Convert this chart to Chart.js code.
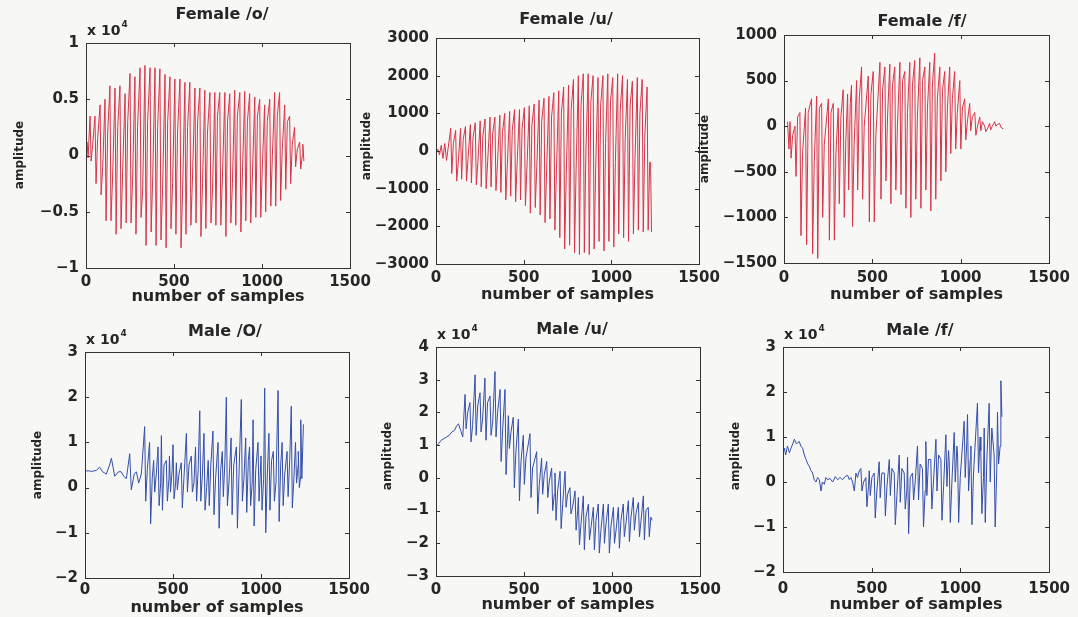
<!DOCTYPE html>
<html><head><meta charset="utf-8">
<script src="https://cdn.jsdelivr.net/npm/chart.js@4.4.0/dist/chart.umd.min.js"></script>
<style>
html,body{margin:0;padding:0;background:#f7f7f5;}
#wrap{position:relative;width:1078px;height:617px;overflow:hidden;}
canvas{position:absolute;left:0;top:0;}
</style></head><body><div id="wrap"></div>
<script>
// ---------- shared axis data ----------
const xTickValues = [0, 500, 1000, 1500];
const titles = ['Female /o/', 'Female /u/', 'Female /f/', 'Male /O/', 'Male /u/', 'Male /f/'];
const xLabel = 'number of samples';
const yLabel = 'amplitude';
const yMin = [-1, -3000, -1500, -2, -3, -2];
const yMax = [1, 3000, 1000, 3, 4, 3];
const yStep = [0.5, 1000, 500, 1, 1, 1];
const yExponent = [4, null, null, 4, 4, 4];

// ---------- Female /o/ (x 10^4) ----------
const fo_leadX = [0, 6, 12];
const fo_leadY = [0.05, 0.12, -0.02];
const fo_at = [23,51,80,108,136,165,193,222,250,278,307,335,364,392,420,449,477,505,534,562,590,619,647,675,704,732,760,789,817,845,874,902,930,959,987,1015,1044,1072,1100,1129,1157,1185,1214];
const fo_hi = [0.35,0.35,0.45,0.5,0.62,0.6,0.62,0.55,0.73,0.7,0.78,0.8,0.78,0.78,0.77,0.72,0.7,0.68,0.68,0.65,0.65,0.6,0.6,0.58,0.56,0.56,0.56,0.56,0.55,0.58,0.56,0.57,0.55,0.52,0.5,0.45,0.5,0.56,0.56,0.45,0.35,0.25,0.12];
const fo_lo = [-0.05,-0.25,-0.35,-0.58,-0.58,-0.7,-0.65,-0.6,-0.6,-0.7,-0.55,-0.8,-0.68,-0.8,-0.75,-0.82,-0.65,-0.7,-0.82,-0.7,-0.62,-0.6,-0.72,-0.65,-0.6,-0.62,-0.62,-0.72,-0.6,-0.62,-0.68,-0.58,-0.6,-0.55,-0.55,-0.5,-0.45,-0.45,-0.4,-0.3,-0.25,-0.1,-0.12];
const fo_mid = [0.1,0.15,-0.1,0.2,-0.2,0.25,-0.15,0.3,-0.2,0.25,-0.3,0.3,-0.2,0.25,-0.3,0.3,-0.25,0.2,-0.3,0.25,-0.2,0.3,-0.25,0.2,-0.3,0.35,-0.2,0.3,-0.25,0.35,-0.15,0.3,-0.2,0.35,-0.1,0.3,0.0,0.35,0.05,0.3,0.1,0.05,0.0];
const fo_tailX = [1232, 1238];
const fo_tailY = [0.1, -0.05];

// ---------- Female /u/ ----------
const fu_leadX = [0, 10, 20, 30, 40, 50, 60, 70];
const fu_leadY = [-50, 50, -100, 150, -200, 200, -250, 100];
const fu_at = [84,112,140,168,196,224,252,280,308,336,364,392,420,448,476,504,532,560,588,616,644,672,700,728,756,784,812,840,868,896,924,952,980,1008,1036,1064,1092,1120,1148,1176,1204];
const fu_hi = [600,550,600,650,700,750,800,850,900,900,950,1000,1050,1100,1100,1150,1200,1250,1350,1400,1450,1550,1600,1700,1750,1900,2000,2050,2050,2000,1950,2000,2050,1950,2050,2000,1900,1850,1950,1900,1700];
const fu_lo = [-600,-800,-750,-800,-850,-900,-950,-1000,-950,-1050,-1100,-1300,-1200,-1350,-1300,-1450,-1650,-1500,-1700,-1900,-1800,-2100,-2300,-2600,-2500,-2700,-2750,-2700,-2750,-2600,-2400,-2650,-2400,-2550,-2200,-2300,-2400,-2200,-2100,-2150,-2100];
const fu_mid = [200,-300,300,-200,350,-300,400,-250,450,-300,500,-350,550,-300,600,-400,700,-400,800,-500,900,-500,1000,-600,1100,-500,1200,0,1300,-400,1200,200,1300,-300,1100,300,1200,-200,1000,400,-300];
const fu_tailX = [1224, 1229];
const fu_tailY = [-300, -2150];

// ---------- Female /f/ ----------
const ff_leadX = [20, 28];
const ff_leadY = [50, -250];
const ff_at = [34,62,90,122,156,185,213,251,279,307,335,360,382,411,439,477,505,543,571,599,627,656,684,712,740,769,797,825,853,882,910,938,966,995,1023,1051,1080,1108,1136,1164,1193,1221];
const ff_hi = [50,0,150,200,300,330,250,300,250,200,400,350,450,500,650,550,600,700,650,680,650,700,600,700,720,750,650,700,800,650,600,650,600,500,300,250,150,100,0,30,50,30];
const ff_lo = [-350,-550,-1200,-1300,-1400,-1450,-1000,-1250,-1250,-850,-1000,-700,-1100,-700,-800,-1050,-1050,-800,-600,-850,-700,-750,-900,-1000,-800,-900,-700,-930,-800,-600,-500,-300,-250,-250,-150,-50,-100,-50,-60,-40,0,-10];
const ff_mid = [-100,100,-300,150,-400,200,-200,150,-300,100,-150,250,-200,300,0,350,-100,400,100,450,0,500,150,450,100,500,200,450,300,400,200,300,150,200,50,100,0,50,-30,0,20,-20];
const ff_tailX = [1238];
const ff_tailY = [-30];

// ---------- Male /O/ (x 10^4) ----------
const mo_leadX = [0,20,40,64,83,100,121,140,150,169,190,206,220,235,254,263,280,292,305,320];
const mo_leadY = [0.37,0.37,0.36,0.38,0.45,0.35,0.3,0.5,0.65,0.25,0.35,0.35,0.25,0.2,0.75,-0.05,0.3,0.35,0.1,0.3];
const mo_at = [339,367,390,415,434,462,480,500,519,547,576,604,628,652,676,700,727,756,780,803,830,860,888,913,935,955,983,1000,1021,1045,1070,1097,1120,1148,1172,1196,1212,1226];
const mo_hi = [1.35,1.0,0.6,0.9,1.15,0.6,0.7,0.95,0.55,0.55,1.2,0.7,0.9,1.7,1.2,0.6,1.25,1.0,0.8,2.0,1.1,0.9,1.95,1.1,0.9,1.5,1.0,0.7,2.2,1.2,0.8,2.15,1.0,0.8,1.8,1.0,0.8,1.5];
const mo_lo = [-0.3,-0.8,-0.1,-0.4,-0.5,-0.3,-0.1,-0.25,-0.05,-0.45,-0.1,-0.1,-0.3,-0.3,-0.5,-0.4,-0.6,-0.9,-0.2,-0.4,-0.6,-0.9,-0.3,-0.55,-0.4,-0.85,-0.3,-0.5,-1.0,-0.5,-0.3,-0.75,-0.4,-0.2,-0.45,0.1,0.0,0.2];
const mo_mid = [0.4,0.2,0.3,0.1,0.5,0.2,0.4,0.1,0.3,0.2,0.5,0.1,0.4,0.3,0.0,0.5,0.2,0.4,0.6,0.1,0.5,0.3,0.2,0.6,0.1,0.4,0.5,0.2,0.3,0.6,0.1,0.5,0.3,0.6,0.2,0.5,0.3,1.4];
const mo_tailX = [];
const mo_tailY = [];

// ---------- Male /u/ (x 10^4) ----------
const mu_leadX = [0,15,30,45,60,75,90,105,118,128,140,152];
const mu_leadY = [0.95,1.05,1.15,1.2,1.25,1.3,1.4,1.45,1.6,1.65,1.45,1.25];
const mu_at = [165,193,222,250,278,307,335,364,392,411,439,468,496,534,572,600,629,657,676,705,733,761,790,809,837,866,894,922,951,979,1008,1036,1064,1093,1121,1150,1178,1206];
const mu_hi = [2.55,2.3,3.15,2.6,3.05,2.5,3.25,2.7,2.7,1.9,1.85,1.8,1.3,1.35,0.8,0.6,0.5,0.3,0.15,0.2,0.2,-0.3,-0.4,-0.6,-0.55,-0.8,-0.9,-0.8,-0.8,-0.8,-0.9,-0.9,-0.8,-0.7,-0.6,-0.75,-0.55,-0.9];
const mu_lo = [1.5,1.1,1.3,1.4,1.15,1.3,1.25,0.5,0.1,0.9,-0.3,-0.7,-0.2,-0.6,-1.1,-0.5,-0.6,-1.0,-1.3,-1.55,-0.9,-1.1,-1.6,-2.05,-2.2,-1.9,-2.2,-2.3,-2.0,-2.3,-2.0,-2.15,-1.8,-1.95,-1.6,-1.8,-1.9,-1.8];
const mu_mid = [2.0,1.6,2.2,1.8,2.3,1.7,2.0,1.5,1.2,1.4,0.8,0.5,0.6,0.3,-0.2,0.1,-0.1,-0.5,-0.4,-0.8,-0.5,-0.9,-1.0,-1.4,-1.2,-1.5,-1.3,-1.6,-1.4,-1.5,-1.6,-1.3,-1.4,-1.2,-1.1,-1.3,-1.0,-1.2];
const mu_tailX = [1228];
const mu_tailY = [-1.3];

// ---------- Male /f/ (x 10^4) ----------
const mf_leadX = [0,8,15,25,36,45,55,64,75,92,100,111,120,130,140,148,158,167,176,186,195,205,214,222,233,242,252,265,280,295,308,322,336,350,364,374,383,392,402,411,420,430];
const mf_leadY = [0.65,0.75,0.6,0.8,0.65,0.75,0.85,0.95,0.85,0.9,0.8,0.75,0.6,0.5,0.4,0.35,0.25,0.2,0.05,0.0,0.1,0.05,-0.2,0.0,-0.05,0.1,0.05,0.08,0.0,0.12,0.05,0.1,0.05,0.12,0.15,0.05,0.1,0.0,-0.2,0.2,0.1,0.25];
const mf_at = [439,467,486,514,542,571,599,627,655,683,702,730,758,786,805,833,862,890,918,937,965,984,1021,1040,1059,1096,1115,1134,1162,1190,1209];
const mf_hi = [0.3,0.1,0.25,0.2,0.45,0.2,0.5,0.2,0.6,0.2,0.55,0.2,0.8,0.3,0.9,0.5,0.95,0.5,1.05,0.45,1.1,0.6,1.35,1.5,0.8,1.75,0.7,1.2,1.75,0.6,1.55];
const mf_lo = [-0.2,-0.55,-0.3,-0.8,-0.35,-0.75,-0.3,-0.95,-0.45,-0.6,-1.15,-0.4,-0.4,-1.0,-0.3,-0.6,-0.2,-0.85,-0.1,-0.9,0.0,-0.9,0.1,-0.2,-0.95,0.2,-0.7,-0.9,0.0,-1.0,0.4];
const mf_mid = [0.0,-0.1,0.1,-0.2,0.2,-0.1,0.3,-0.3,0.3,-0.2,0.1,0.0,0.4,-0.2,0.5,0.0,0.6,-0.1,0.7,0.0,0.8,0.1,0.9,0.5,0.2,1.0,0.1,0.5,1.2,0.3,0.8];
const mf_tailX = [1228, 1234];
const mf_tailY = [2.25, 1.45];

// ---------- build waveforms ----------
const TROUGH_LAG = 6, MID_LAG = 15;
function buildWave(leadX, leadY, at, hi, lo, mid, tailX, tailY) {
  const pts = [];
  leadX.forEach((x, i) => pts.push({x: x, y: leadY[i]}));
  at.forEach((x, i) => {
    pts.push({x: x, y: hi[i]});
    pts.push({x: x + TROUGH_LAG, y: lo[i]});
    pts.push({x: x + MID_LAG, y: mid[i]});
  });
  tailX.forEach((x, i) => pts.push({x: x, y: tailY[i]}));
  return pts;
}
const waves = [
  buildWave(fo_leadX, fo_leadY, fo_at, fo_hi, fo_lo, fo_mid, fo_tailX, fo_tailY),
  buildWave(fu_leadX, fu_leadY, fu_at, fu_hi, fu_lo, fu_mid, fu_tailX, fu_tailY),
  buildWave(ff_leadX, ff_leadY, ff_at, ff_hi, ff_lo, ff_mid, ff_tailX, ff_tailY),
  buildWave(mo_leadX, mo_leadY, mo_at, mo_hi, mo_lo, mo_mid, mo_tailX, mo_tailY),
  buildWave(mu_leadX, mu_leadY, mu_at, mu_hi, mu_lo, mu_mid, mu_tailX, mu_tailY),
  buildWave(mf_leadX, mf_leadY, mf_at, mf_hi, mf_lo, mf_mid, mf_tailX, mf_tailY)
];

// ---------- layout & style (not data) ----------
const W = 1078, H = 617;
const YAXIS_W = 70, XAXIS_H = 30;
const panels = [
  {L: 86,  T: 43,  R: 350,  B: 268, titleX: 222, titleY: 15,  xlabY: 297, ylabX: 20,  ylabY: 155, xPad: 5, color: 'rgb(214,52,72)'},
  {L: 436, T: 38,  R: 699,  B: 264, titleX: 566, titleY: 20,  xlabY: 295, ylabX: 367, ylabY: 146, xPad: 5, color: 'rgb(214,52,72)'},
  {L: 784, T: 35,  R: 1049, B: 263, titleX: 922, titleY: 22,  xlabY: 295, ylabX: 705, ylabY: 149, xPad: 6, color: 'rgb(214,52,72)'},
  {L: 85,  T: 352, R: 349,  B: 578, titleX: 225, titleY: 332, xlabY: 608, ylabX: 38,  ylabY: 465, xPad: 3, color: 'rgb(52,78,168)'},
  {L: 436, T: 347, R: 700,  B: 576, titleX: 572, titleY: 330, xlabY: 605, ylabX: 388, ylabY: 456, xPad: 5, color: 'rgb(52,78,168)'},
  {L: 783, T: 347, R: 1050, B: 572, titleX: 920, titleY: 331, xlabY: 605, ylabX: 736, ylabY: 456, xPad: 8, color: 'rgb(52,78,168)'}
];
const FONT = '"DejaVu Sans", "Liberation Sans", sans-serif';
const INK = '#262626';

const matlabAxes = {
  id: 'matlabAxes',
  afterDraw(chart, args, o) {
    const ctx = chart.ctx, a = chart.chartArea;
    const xs = chart.scales.x, ys = chart.scales.y;
    ctx.save();
    ctx.strokeStyle = '#333';
    ctx.lineWidth = 1;
    ctx.strokeRect(Math.round(a.left) + 0.5, Math.round(a.top) + 0.5, Math.round(a.right - a.left), Math.round(a.bottom - a.top));
    ctx.beginPath();
    xs.ticks.forEach(t => {
      const px = Math.round(xs.getPixelForValue(t.value)) + 0.5;
      ctx.moveTo(px, a.bottom); ctx.lineTo(px, a.bottom - 4);
      ctx.moveTo(px, a.top); ctx.lineTo(px, a.top + 4);
    });
    ys.ticks.forEach(t => {
      const py = Math.round(ys.getPixelForValue(t.value)) + 0.5;
      ctx.moveTo(a.left, py); ctx.lineTo(a.left + 4, py);
      ctx.moveTo(a.right, py); ctx.lineTo(a.right - 4, py);
    });
    ctx.stroke();
    ctx.fillStyle = INK;
    ctx.textAlign = 'center';
    ctx.textBaseline = 'middle';
    ctx.font = 'bold 16px ' + FONT;
    ctx.fillText(o.title, o.titleX, o.titleY);
    ctx.fillText(o.xlabel, (a.left + a.right) / 2, o.xlabY);
    ctx.save();
    ctx.translate(o.ylabX, o.ylabY);
    ctx.rotate(-Math.PI / 2);
    ctx.font = 'bold 12px ' + FONT;
    ctx.fillText(o.ylabel, 0, 0);
    ctx.restore();
    if (o.exp !== null) {
      ctx.textAlign = 'left';
      ctx.textBaseline = 'alphabetic';
      ctx.font = 'bold 14px ' + FONT;
      const base = 'x 10';
      ctx.fillText(base, a.left + 1, a.top - 8);
      const w = ctx.measureText(base).width;
      ctx.font = 'bold 9px ' + FONT;
      ctx.fillText(String(o.exp), a.left + 2 + w, a.top - 16);
    }
    ctx.restore();
  }
};

function fmt(v) {
  const s = String(Math.abs(Math.round(v * 1000) / 1000));
  return v < 0 ? '\u2212' + s : s;
}

const wrap = document.getElementById('wrap');
panels.forEach((p, i) => {
  const cv = document.createElement('canvas');
  cv.width = W; cv.height = H;
  cv.style.width = W + 'px'; cv.style.height = H + 'px';
  wrap.appendChild(cv);
  new Chart(cv.getContext('2d'), {
    type: 'line',
    data: {datasets: [{
      data: waves[i],
      borderColor: p.color,
      borderWidth: 1,
      pointRadius: 0,
      fill: false,
      tension: 0
    }]},
    plugins: [matlabAxes],
    options: {
      responsive: false,
      animation: false,
      devicePixelRatio: 1,
      events: [],
      layout: {padding: {left: p.L - YAXIS_W, top: p.T, right: W - p.R, bottom: H - p.B - XAXIS_H}},
      plugins: {
        legend: {display: false},
        title: {display: false},
        tooltip: {enabled: false},
        matlabAxes: {title: titles[i], xlabel: xLabel, ylabel: yLabel, exp: yExponent[i],
          titleX: p.titleX, titleY: p.titleY, xlabY: p.xlabY, ylabX: p.ylabX, ylabY: p.ylabY}
      },
      scales: {
        x: {
          type: 'linear', min: xTickValues[0], max: xTickValues[xTickValues.length - 1],
          afterBuildTicks: s => { s.ticks = xTickValues.map(v => ({value: v})); },
          ticks: {callback: v => fmt(v), font: {family: FONT, size: 15, weight: 'bold'}, color: INK, padding: p.xPad, maxRotation: 0, autoSkip: false},
          grid: {display: false, drawTicks: false},
          border: {display: false},
          afterFit: s => { s.height = XAXIS_H; }
        },
        y: {
          type: 'linear', min: yMin[i], max: yMax[i],
          ticks: {stepSize: yStep[i], callback: v => fmt(v), font: {family: FONT, size: 15, weight: 'bold'}, color: INK, padding: 7, autoSkip: false},
          grid: {display: false, drawTicks: false},
          border: {display: false},
          afterFit: s => { s.width = YAXIS_W; }
        }
      }
    }
  });
});
</script></body></html>
